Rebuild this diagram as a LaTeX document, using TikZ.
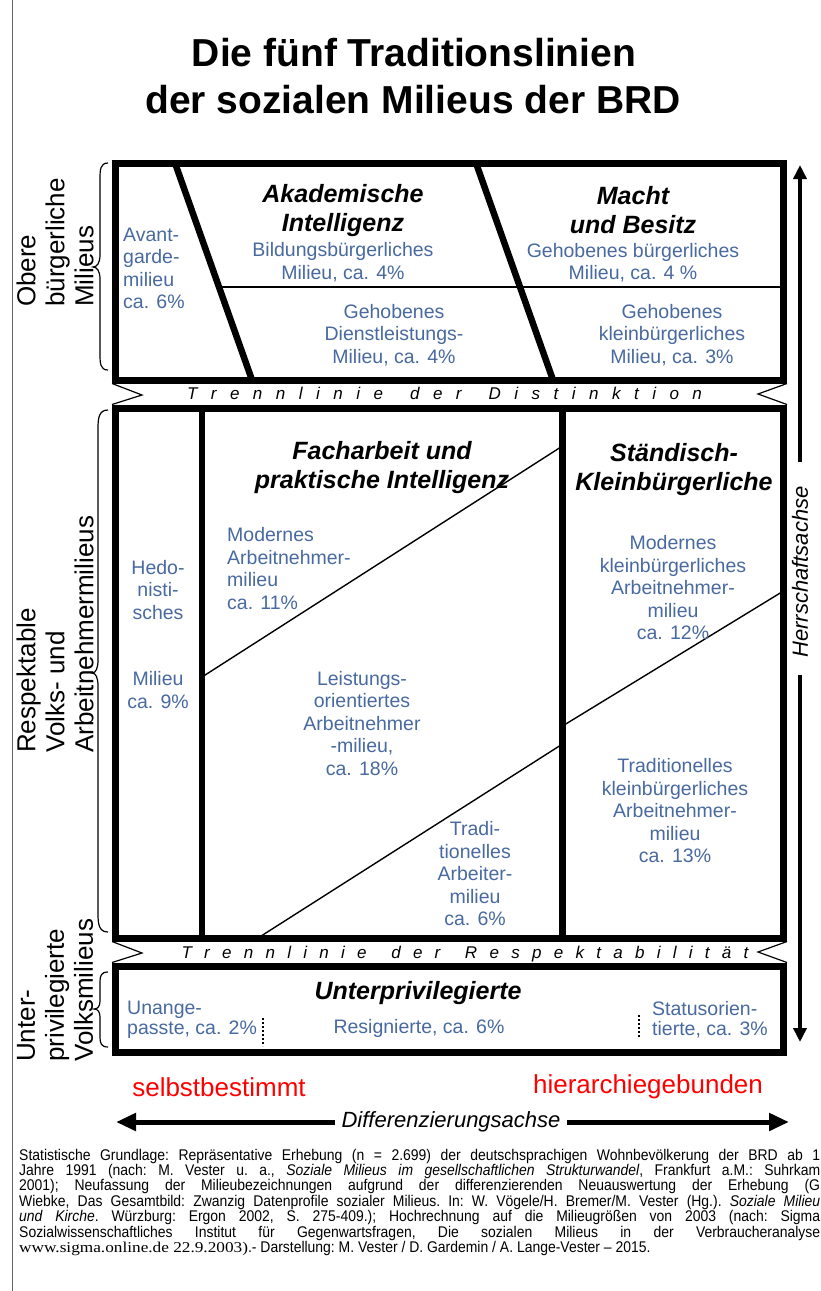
\documentclass[tikz,border=0pt]{standalone}
\usepackage{fontspec}
\setmainfont{Liberation Sans}
\newfontfamily\footsans[FakeStretch=0.9]{Liberation Sans}
\newfontfamily\footserif[FakeStretch=1.15]{Liberation Serif}
\usetikzlibrary{arrows.meta}
\definecolor{milieublue}{RGB}{72,106,160}
\definecolor{axisred}{RGB}{255,0,0}

% letter-spaced captions of the two dividing bands
\newcommand{\bandDistinktion}{T\hfill r\hfill e\hfill n\hfill n\hfill l\hfill i\hfill n\hfill i\hfill e\hfill\hfill d\hfill e\hfill r\hfill\hfill D\hfill i\hfill s\hfill t\hfill i\hfill n\hfill k\hfill t\hfill i\hfill o\hfill n}
\newcommand{\bandRespekt}{T\hfill r\hfill e\hfill n\hfill n\hfill l\hfill i\hfill n\hfill i\hfill e\hfill\hfill d\hfill e\hfill r\hfill\hfill R\hfill e\hfill s\hfill p\hfill e\hfill k\hfill t\hfill a\hfill b\hfill i\hfill l\hfill i\hfill t\hfill ä\hfill t}

\begin{document}
\begin{tikzpicture}[x=1pt,y=-1pt,
  frame/.style={line width=7pt},
  divider/.style={line width=6.5pt},
  thinline/.style={line width=1.4pt},
  notchline/.style={line width=1.2pt},
  bracket/.style={line width=1.2pt},
  dotsep/.style={line width=2pt, dash pattern=on 2pt off 2pt},
  milieu/.style={text=milieublue, font=\fontsize{19.5}{22.5}\selectfont, inner sep=0pt, align=center},
  milieuleft/.style={milieu, align=left, anchor=west},
  head/.style={font=\fontsize{25}{29}\selectfont\bfseries\itshape, inner sep=0pt, align=center},
  side/.style={font=\fontsize{26}{29}\selectfont, inner sep=0pt, align=left, rotate=90, anchor=west},
  band/.style={font=\fontsize{17}{20}\selectfont\itshape, inner sep=0pt},
  axislabel/.style={font=\fontsize{22}{26}\selectfont\itshape, inner sep=0pt},
  vaxis/.style={line width=4pt, -{Triangle[length=14pt,width=13pt]}},
  haxis/.style={line width=5pt, -{Triangle[length=20pt,width=17pt]}},
  pole/.style={text=axisred, font=\fontsize{26}{30}\selectfont, inner sep=0pt},
  titletext/.style={font=\fontsize{39}{47}\selectfont\bfseries, inner sep=0pt}
]
\useasboundingbox (0,0) rectangle (820,1291);
\fill[white] (0,0) rectangle (820,1291);
\clip (0,0) rectangle (820,1291);

% page margin rule
\coordinate (marginTop) at (12.5,0);
\coordinate (marginBot) at (12.5,1291);
\draw[gray!80!black, line width=1.5pt] (marginTop) -- (marginBot);

% title
\node[titletext] (title1) at (414,53) {Die fünf Traditionslinien};
\node[titletext] (title2) at (413,100) {der sozialen Milieus der BRD};

% ---------- upper block: Obere bürgerliche Milieus ----------
\coordinate (ubTL) at (115.5,163);
\coordinate (ubBR) at (783.5,380);
\coordinate (ubSplitL) at (219,287);
\coordinate (ubSplitR) at (783.5,287);
\draw[thinline] (ubSplitL) -- (ubSplitR);
\coordinate (d1t) at (175,163);
\coordinate (d1b) at (252,380);
\coordinate (d2t) at (476,163);
\coordinate (d2b) at (553,380);
\draw[divider] (d1t) -- (d1b);
\draw[divider] (d2t) -- (d2b);
\draw[frame] (ubTL) rectangle (ubBR);

% ---------- middle block: Respektable Volks- und Arbeitnehmermilieus ----------
\coordinate (mbTL) at (115.5,408);
\coordinate (mbBR) at (783.5,938);
\coordinate (v1t) at (202,408);
\coordinate (v1b) at (202,938);
\coordinate (v2t) at (562.5,408);
\coordinate (v2b) at (562.5,938);
\coordinate (a1) at (202,677);
\coordinate (a2) at (562.5,446);
\coordinate (b1) at (258,938);
\coordinate (b2) at (562.5,744);
\coordinate (c1) at (562.5,726);
\coordinate (c2) at (783.5,591);
\draw[thinline] (a1) -- (a2);
\draw[thinline] (b1) -- (b2);
\draw[thinline] (c1) -- (c2);
\draw[divider] (v1t) -- (v1b);
\draw[divider] (v2t) -- (v2b);
\draw[frame] (mbTL) rectangle (mbBR);

% ---------- lower block: Unterprivilegierte ----------
\coordinate (lbTL) at (115.5,966);
\coordinate (lbBR) at (783.5,1052);
\draw[frame] (lbTL) rectangle (lbBR);
\coordinate (dotAt) at (263,1018);
\coordinate (dotAb) at (263,1046);
\coordinate (dotBt) at (639,1015);
\coordinate (dotBb) at (639,1038);
\draw[dotsep] (dotAt) -- (dotAb);
\draw[dotsep] (dotBt) -- (dotBb);

% ---------- notched ends of the dividing bands ----------
\coordinate (nDl1) at (112,383.5);
\coordinate (nDlt) at (142,395);
\coordinate (nDl2) at (112,404.5);
\coordinate (nDr1) at (787,383.5);
\coordinate (nDrt) at (758,394);
\coordinate (nDr2) at (787,404.5);
\draw[notchline] (nDl1) -- (nDlt) -- (nDl2);
\draw[notchline] (nDr1) -- (nDrt) -- (nDr2);
\coordinate (nRl1) at (112,941.5);
\coordinate (nRlt) at (142,953);
\coordinate (nRl2) at (112,962.5);
\coordinate (nRr1) at (787,941.5);
\coordinate (nRrt) at (758,952);
\coordinate (nRr2) at (787,962.5);
\draw[notchline] (nRl1) -- (nRlt) -- (nRl2);
\draw[notchline] (nRr1) -- (nRrt) -- (nRr2);

\node[band] (bandD) at (444.5,393.5) {\makebox[515pt][s]{\bandDistinktion}};
\node[band] (bandR) at (465,954) {\makebox[567pt][s]{\bandRespekt}};

% ---------- braces on the left ----------
\draw[bracket] (108,163) .. controls (100,163) and (100,170) .. (100,180)
  -- (100,255) .. controls (100,263) and (97,267) .. (93,267)
  .. controls (97,267) and (100,271) .. (100,279)
  -- (100,353) .. controls (100,363) and (100,370) .. (108,370);
\draw[bracket] (108,410) .. controls (99,410) and (98,418) .. (98,428)
  -- (98,660) .. controls (98,668) and (96,673) .. (92,673)
  .. controls (96,673) and (98,678) .. (98,686)
  -- (98,914) .. controls (98,924) and (99,932) .. (108,932);
\draw[bracket] (108,972) .. controls (101,972) and (100,976) .. (100,982)
  -- (100,1001) .. controls (100,1006) and (98,1009) .. (94,1009)
  .. controls (98,1009) and (100,1012) .. (100,1017)
  -- (100,1037) .. controls (100,1043) and (101,1047) .. (108,1047);

% ---------- rotated group labels ----------
\node[side] (grpUpper) at (55,307) {Obere\\bürgerliche\\Milieus};
\node[side] (grpMiddle) at (55,753) {Respektable\\Volks- und\\Arbeitnehmermilieus};
\node[side] (grpLower) at (55,1062) {Unter-\\privilegierte\\Volksmilieus};

% ---------- texts of the upper block ----------
\node[milieuleft] (avant) at (123,268.5) {Avant-\\garde-\\milieu\\ca. 6\%};
\node[head] (akad) at (343,210.5) {Akademische\\Intelligenz};
\node[milieu] (bildung) at (343,262) {Bildungsbürgerliches\\Milieu, ca. 4\%};
\node[head] (macht) at (633,210.5) {Macht\\und Besitz};
\node[milieu] (gehbuerg) at (633,262.5) {Gehobenes bürgerliches\\Milieu, ca. 4 \%};
\node[milieu] (dienst) at (394,335) {Gehobenes\\Dienstleistungs-\\Milieu, ca. 4\%};
\node[milieu] (gehklein) at (672,335) {Gehobenes\\kleinbürgerliches\\Milieu, ca. 3\%};

% ---------- texts of the middle block ----------
\node[milieu] (hedo) at (158,590) {Hedo-\\nisti-\\sches};
\node[milieu] (hedomil) at (158,690) {Milieu\\ca. 9\%};
\node[head] (fach) at (382,467.5) {Facharbeit und\\praktische Intelligenz};
\node[milieuleft] (modarb) at (227,568.5) {Modernes\\Arbeitnehmer-\\milieu\\ca. 11\%};
\node[milieu] (leist) at (362,723.5) {Leistungs-\\orientiertes\\Arbeitnehmer\\-milieu,\\ca. 18\%};
\node[milieu] (tradarb) at (475,874) {Tradi-\\tionelles\\Arbeiter-\\milieu\\ca. 6\%};
\node[head] (staend) at (674,470) {Ständisch-\\Kleinbürgerliche};
\node[milieu] (modklein) at (673,588) {Modernes\\kleinbürgerliches\\Arbeitnehmer-\\milieu\\ca. 12\%};
\node[milieu] (tradklein) at (675,811) {Traditionelles\\kleinbürgerliches\\Arbeitnehmer-\\milieu\\ca. 13\%};

% ---------- texts of the lower block ----------
\node[head] (unterpriv) at (418,993) {Unterprivilegierte};
\node[milieuleft, font=\fontsize{19.5}{20}\selectfont] (unange) at (127,1020) {Unange-\\passte, ca. 2\%};
\node[milieu] (resig) at (419,1028) {Resignierte, ca. 6\%};
\node[milieuleft, font=\fontsize{19.5}{20}\selectfont] (statusor) at (652,1020) {Statusorien-\\tierte, ca. 3\%};

% ---------- axes ----------
\coordinate (hTop) at (800,165);
\coordinate (hBot) at (800,1042);
\node[axislabel, rotate=90] (herr) at (800,572) {Herrschaftsachse};
\draw[vaxis, shorten <=24pt] (herr.east) -- (hTop);
\draw[vaxis, shorten <=17pt] (herr.west) -- (hBot);

\node[pole] (selbst) at (219,1087) {selbstbestimmt};
\node[pole] (hierarch) at (648,1087) {hierarchiegebunden};

\coordinate (dLeft) at (116,1122);
\coordinate (dRight) at (789,1122);
\node[axislabel] (diff) at (451,1122) {Differenzierungsachse};
\draw[haxis, shorten <=6pt] (diff.west) -- (dLeft);
\draw[haxis, shorten <=6pt] (diff.east) -- (dRight);

% ---------- source note ----------
\node[anchor=base west, inner sep=0pt] (source) at (19,1160) {\parbox[t]{801pt}{%
\footsans\fontsize{15.5}{14.4}\selectfont\frenchspacing\tolerance=10000\hyphenpenalty=10000
Statistische Grundlage: Repräsentative Erhebung (n = 2.699) der deutschsprachigen Wohnbevölkerung der BRD ab 1\linebreak
Jahre 1991 (nach: M. Vester u. a., \textit{Soziale Milieus im gesellschaftlichen Strukturwandel}, Frankfurt a.M.: Suhrkam\linebreak
2001); Neufassung der Milieubezeichnungen aufgrund der differenzierenden Neuauswertung der Erhebung (G\linebreak
Wiebke, Das Gesamtbild: Zwanzig Datenprofile sozialer Milieus. In: W. Vögele/H. Bremer/M. Vester (Hg.). \textit{Soziale Milieu}\linebreak
\textit{und Kirche}. Würzburg: Ergon 2002, S. 275-409.); Hochrechnung auf die Milieugrößen von 2003 (nach: Sigma\linebreak
Sozialwissenschaftliches Institut für Gegenwartsfragen, Die sozialen Milieus in der Verbraucheranalyse\linebreak
{\footserif\fontsize{15}{14.4}\selectfont www.sigma.online.de 22.9.2003)}.- Darstellung: M. Vester / D. Gardemin / A. Lange-Vester – 2015.}};
\end{tikzpicture}
\end{document}
